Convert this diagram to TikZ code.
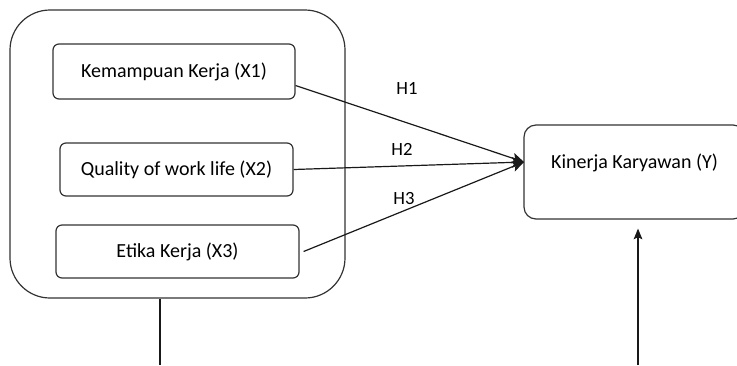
\documentclass[tikz,border=0pt]{standalone}
\usepackage{fontspec}
\setmainfont{Carlito}
\usetikzlibrary{calc,arrows.meta}

\begin{document}
\begin{tikzpicture}[x=0.75pt,y=-0.75pt,
  varbox/.style={draw=black!80,line width=0.9pt,rounded corners=4.5pt,inner sep=0pt},
  link/.style={draw=black!90,line width=0.9pt},
  hyp/.style={font=\fontsize{14}{16}\selectfont}]
\clip (0,0) rectangle (737,365);

\node[draw=black!80,line width=0.9pt,rounded corners=30pt,minimum width=251.25pt,minimum height=216pt] (outer) at (177.5,154) {};

\node[varbox,minimum width=181.5pt,minimum height=41.25pt,font=\fontsize{15}{17}\selectfont] (x1) at (174,71.5) {Kemampuan Kerja (X1)};
\node[varbox,minimum width=174.75pt,minimum height=39.75pt,font=\fontsize{15}{17}\selectfont] (x2) at (176.5,169.5) {Quality of work life (X2)};
\node[varbox,minimum width=182.25pt,minimum height=39.75pt,font=\fontsize{15}{17}\selectfont] (x3) at (177.5,251.5) {Etika Kerja (X3)};

\node[varbox,rounded corners=9pt,minimum width=165.75pt,minimum height=70.5pt,
  label={[yshift=6.75pt,font=\fontsize{15}{17}\selectfont]center:Kinerja Karyawan (Y)}] (y) at (634.5,172) {};

\coordinate (hub) at (524,162);
\coordinate (down) at (160,365);
\coordinate (up) at (638,365);

\path[link,-{Stealth[length=9pt,width=8pt,inset=2pt]}] ($(x1.east)+(0,14)$) -- (hub);
\path[link,-{Stealth[length=9pt,width=8pt,inset=2pt]}] (x2.east) -- (hub);
\path[link,-{Stealth[length=9pt,width=8pt,inset=2pt]}] ($(x3.east)+(4,0)$) -- (hub);

\node[hyp] (h1) at (407,88) {H1};
\node[hyp] (h2) at (402,149) {H2};
\node[hyp] (h3) at (404,198) {H3};

\path[link] (outer.south -| down) -- (down);
\path[link,-{Stealth[length=8pt,width=6.5pt,inset=1.5pt]}] (up) -- ($(y.south -| up)+(0,9)$);
\end{tikzpicture}
\end{document}
